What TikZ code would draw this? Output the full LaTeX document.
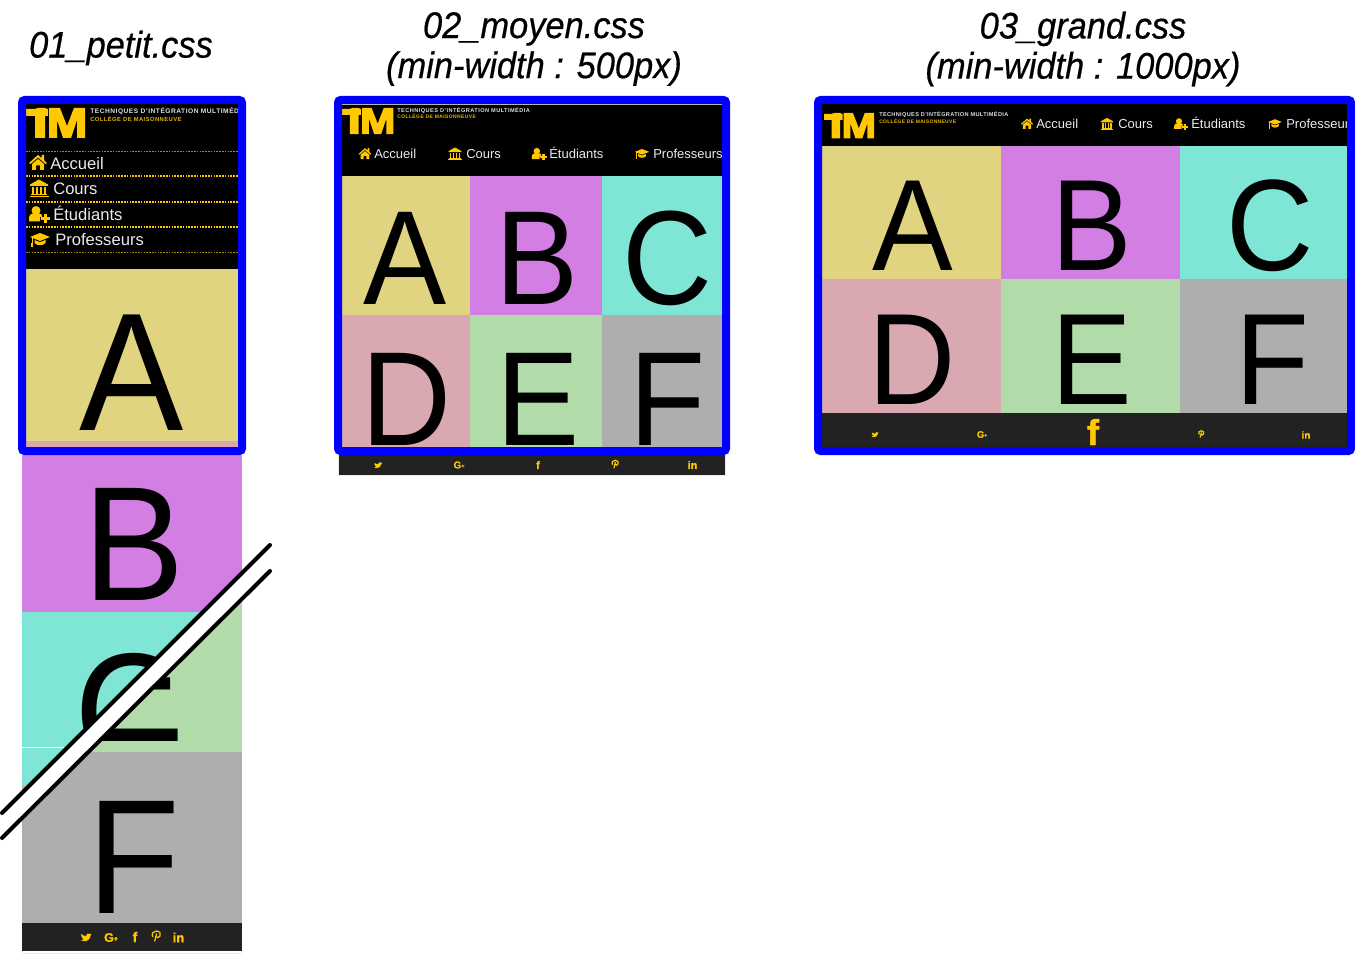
\documentclass[tikz,border=0pt]{standalone}
\usepackage{fontspec}
\setmainfont{Liberation Sans}
\newfontfamily\titlef[UprightFont=* Italic,FakeStretch=0.93,FakeBold=0.5]{Liberation Sans}
\newfontfamily\bigf[FakeStretch=0.93]{Liberation Sans}
\newfontfamily\socf[UprightFont=* Bold,FakeBold=1]{Liberation Sans}
\definecolor{blu}{HTML}{0000FF}
\definecolor{yel}{HTML}{FFC800}
\definecolor{ca}{HTML}{E0D480}
\definecolor{cb}{HTML}{D37EE3}
\definecolor{cc}{HTML}{7FE5D5}
\definecolor{cd}{HTML}{DAA8B0}
\definecolor{ce}{HTML}{B1DBA8}
\definecolor{cf}{HTML}{AEAEAE}
\definecolor{foot}{HTML}{222222}
\newcommand{\pxf}[1]{\fontsize{\fpeval{#1*0.75}}{\fpeval{#1*0.9}}\selectfont}
\tikzset{
  x=0.75pt,y=-0.75pt,
  frame/.style={draw=blu,line width=6pt,rounded corners=2pt},
  title/.style={inner sep=0,align=center,font=\titlef\pxf{37},text=black},
  big/.style={inner sep=0,anchor=base,text=black,font=\bigf\pxf{#1}},
  menu/.style={inner sep=0,anchor=base west,text=white!92!black,font=\pxf{#1}},
  lnone/.style={inner sep=0,anchor=base west,text=white!88!black,font=\bfseries\pxf{#1}},
  lntwo/.style={inner sep=0,anchor=base west,text=yel!90!black,font=\bfseries\pxf{#1}},
  soc/.style={inner sep=0,text=yel,font=\socf\pxf{#1}},
  dotline/.style={draw=yel,line width=.8pt,dash pattern=on 1.2pt off .9pt},
  dotthin/.style={draw=yel!70!black,line width=.5pt,dash pattern=on 1.2pt off .9pt},
  blackline/.style={draw=black,line width=3pt,line cap=round},
  logo/.pic={
    \fill[yel] (0,1)--(9,1)--(12,0)--(19,0)--(21,1)--(22,1)--(22,8)--(19,8)--(19,30)--(9,30)--(9,8)--(0,8)--cycle;
    \fill[yel] (23,0)--(34,0)--(41,18)--(48,0)--(59,0)--(59,30)--(51,30)--(51,12)--(45,30)--(37,30)--(31,12)--(31,30)--(23,30)--cycle;
  },
  home/.pic={
    \fill[yel] (-9,0)--(0,-8)--(3.5,-5)--(3.5,-8)--(6,-8)--(6,-2.8)--(9,0)--(7.5,1)--(0,-5.5)--(-7.5,1)--cycle;
    \fill[yel] (-6,1)--(0,-4)--(6,1)--(6,7)--(2,7)--(2,2.5)--(-2,2.5)--(-2,7)--(-6,7)--cycle;
  },
  bank/.pic={
    \fill[yel] (-9,-4)--(0,-9)--(9,-4)--(9,-2.5)--(-9,-2.5)--cycle;
    \foreach \q in {-7,-3,1,5}{\fill[yel] (\q,-1.5) rectangle ++(2,7);}
    \fill[yel] (-8,5.5) rectangle (8,7);
    \fill[yel] (-9.5,7.5) rectangle (9.5,9);
  },
  userp/.pic={
    \fill[yel] (-3,-4) circle (4.5);
    \fill[yel] (-10,7)--(-10,3) .. controls (-10,0) and (-8,-.5) .. (-6,-1) -- (0,-1) .. controls (2,-.5) and (3,0) .. (3,1)--(3,2.5)--(1,2.5)--(1,7)--cycle;
    \fill[yel] (2,2.5) rectangle (10.5,5.5);
    \fill[yel] (4.7,-.5) rectangle (7.8,8.5);
  },
  gcap/.pic={
    \fill[yel] (-10,-3)--(0,-7)--(10,-3)--(0,1)--cycle;
    \fill[yel] (-5.5,0)--(0,2.2)--(5.5,0)--(5.5,3)..controls (3,6) and (-3,6) ..(-5.5,3)--cycle;
    \fill[yel] (-8.5,-2.5) rectangle (-7.5,4);
    \fill[yel] (-9,3.5) rectangle (-7,7);
  },
  bird/.pic={
    \fill[yel] (-5,-3)..controls (-3,-1.5) and (-1.5,-1) .. (0,-1)
      ..controls (0,-3.5) and (3,-4.5) .. (4,-3) --(5.2,-3.4)--(4.6,-2.2)--(5.4,-2.4)--(4.5,-1.3)
      ..controls (4.5,2) and (1,4.5) .. (-2,4.2)
      ..controls (-3.5,4.2) and (-4.5,3.6) .. (-5.2,3.2)
      ..controls (-4,3.2) and (-3,2.9) .. (-2.2,2.3)
      ..controls (-3.5,2) and (-4,1.4) .. (-4.2,.8)
      --(-3.3,.8)..controls (-4.5,.3) and (-5,-.6) .. (-5,-1.2)
      --(-4,-1)..controls (-5.2,-1.8) and (-5.4,-2.6) .. (-5,-3)--cycle;
  },
  pint/.pic={
    \draw[yel,line width=.9pt] (-3.2,1) ..controls (-5.2,-2.8) and (-2,-5) .. (.3,-5) ..controls (4,-5) and (5,-2) .. (4,0) ..controls (3,2.2) and (.8,2) .. (0,.5);
    \draw[yel,line width=.9pt] (.6,-2.5)--(-1.4,5.5);
  },
}
\begin{document}
\begin{tikzpicture}
\useasboundingbox (0,0) rectangle (1355,955);
\fill[white] (0,0) rectangle (1355,955);

% ---------- titles
\node[title] (t1) at (121,48) {01\_petit.css};
\node[title] (t2) at (534,49) {02\_moyen.css\\[-3.2pt](min-width : 500px)};
\node[title] (t3) at (1083,49) {03\_grand.css\\[-3.2pt](min-width : 1000px)};

% ---------- column 1 : long page, above the cut
\fill[cb] (22,455) rectangle (242,612);
\fill[cc] (22,612) rectangle (242,786);
\fill[cd] (22,786) rectangle (242,800);
\node[big=163] (pb) at (134,600) {B};
\begin{scope}
\clip (22,612) rectangle (242,786);
\node[big=165] (pc) at (130,768) {C};
\end{scope}
\draw[white,line width=.6pt] (22,747) -- (70,747);
% below the cut
\begin{scope}
\clip (272,571) -- (-2,840) -- (0,955) -- (272,955) -- cycle;
\fill[ce] (22,590) rectangle (242,752);
\node[big=163] (pe) at (134,741) {E};
\fill[cf] (22,752) rectangle (242,923);
\node[big=163] (pf) at (134,913) {F};
\end{scope}
% the cut
\fill[white] (271,545) -- (1,813) -- (1,839) -- (271,571) -- cycle;
\draw[blackline] (270,545) -- (2,813);
\draw[blackline] (270,571) -- (2,838);
% footer column 1
\fill[foot] (22,923) rectangle (242,951);
\draw[gray!15,line width=.6pt] (22,953.5) -- (242,953.5);
\pic[scale=1] at (86,937) {bird};
\node[soc=12.5] (g1) at (111,937.5) {G\raisebox{.5pt}{\pxf{7}+}};
\node[soc=14] (f1) at (135,937) {f};
\pic[scale=1] at (156,936) {pint};
\node[soc=13] (l1) at (178.5,937.5) {in};

% ---------- column 1 : first screen
\fill[black] (26,104) rectangle (238,269);
\fill[ca] (26,269) rectangle (238,441);
\fill[cd] (26,441) rectangle (238,447);
\node[big=168] (pa) at (132,430) {A};
\pic[scale=1] at (26,108) {logo};
\begin{scope}
\clip (26,104) rectangle (238,147);
\node[lnone=6.6] (l1a) at (90,114) {\addfontfeature{LetterSpace=8}TECHNIQUES D'INTÉGRATION MULTIMÉDIA};
\node[lntwo=5.8] (l1b) at (90,121.5) {\addfontfeature{LetterSpace=8}COLLÈGE DE MAISONNEUVE};
\end{scope}
\draw[dotthin] (26,151) -- (238,151);
\draw[dotline] (26,176) -- (238,176);
\draw[dotline] (26,202) -- (238,202);
\draw[dotline] (26,227) -- (238,227);
\draw[dotthin] (26,252) -- (238,252);
\pic at (38,163) {home};
\pic at (39,188.5) {bank};
\pic at (39,214.5) {userp};
\pic at (40,240) {gcap};
\node[menu=16.6] (m1a) at (50,169.5) {Accueil};
\node[menu=16.6] (m1b) at (53,195) {Cours};
\node[menu=16.6] (m1c) at (53,220.5) {Étudiants};
\node[menu=16.6] (m1d) at (55,246) {Professeurs};
\draw[frame] (22,100) rectangle (242,451);

% ---------- column 2
\fill[gray!15] (338,450) rectangle (726,476);
\fill[foot] (339,450) rectangle (725,475);
\fill[black] (342,104) rectangle (722,176);
\draw[gray!60,line width=.6pt] (342,104.4) -- (722,104.4);
\fill[ca] (342,176) rectangle (470,315);
\fill[cb] (470,176) rectangle (602,315);
\fill[cc] (602,176) rectangle (722,315);
\fill[cd] (342,315) rectangle (470,447);
\fill[ce] (470,315) rectangle (602,447);
\fill[cf] (602,315) rectangle (722,447);
\node[big=134] (ma) at (405,305) {A};
\node[big=134] (mb) at (537,305) {B};
\node[big=134] (mc) at (667,305) {C};
\node[big=134] (md) at (406,445) {D};
\node[big=134] (me) at (538,445) {E};
\node[big=134] (mf) at (668,445) {F};
\pic[scale=.87] at (342,108) {logo};
\node[lnone=5.6] (l2a) at (397,113) {\addfontfeature{LetterSpace=8}TECHNIQUES D'INTÉGRATION MULTIMÉDIA};
\node[lntwo=5.0] (l2b) at (397,119) {\addfontfeature{LetterSpace=8}COLLÈGE DE MAISONNEUVE};
\pic[scale=.72] at (365,154) {home};
\pic[scale=.72] at (455,154) {bank};
\pic[scale=.72] at (539,154) {userp};
\pic[scale=.72] at (642,154) {gcap};
\node[menu=13] (m2a) at (374,158.5) {Accueil};
\node[menu=13] (m2b) at (466,158.5) {Cours};
\node[menu=13] (m2c) at (549,158.5) {Étudiants};
\node[menu=13] (m2d) at (653,158.5) {Professeurs};
\draw[frame] (338,100) rectangle (726,451);
\pic[scale=.75] at (378,465) {bird};
\node[soc=10] (g2) at (459,465) {G\raisebox{.5pt}{\pxf{5.5}+}};
\node[soc=11] (f2) at (538,465) {f};
\pic[scale=.75] at (615,464) {pint};
\node[soc=11] (l2) at (692.5,465) {in};

% ---------- column 3
\fill[black] (822,104) rectangle (1347,146);
\fill[ca] (822,146) rectangle (1001,279);
\fill[cb] (1001,146) rectangle (1180,279);
\fill[cc] (1180,146) rectangle (1347,279);
\fill[cd] (822,279) rectangle (1001,413);
\fill[ce] (1001,279) rectangle (1180,413);
\fill[cf] (1180,279) rectangle (1347,413);
\fill[foot] (822,413) rectangle (1347,447);
\node[big=130] (ga) at (913,271) {A};
\node[big=130] (gb) at (1092,271) {B};
\node[big=130] (gc) at (1270,271) {C};
\node[big=130] (gd) at (912,404) {D};
\node[big=130] (ge) at (1092,404) {E};
\node[big=130] (gf) at (1272,404) {F};
\pic[scale=.85] at (824,113) {logo};
\node[lnone=5.6] (l3a) at (879,117) {\addfontfeature{LetterSpace=6}TECHNIQUES D'INTÉGRATION MULTIMÉDIA};
\node[lntwo=5.0] (l3b) at (879,124) {\addfontfeature{LetterSpace=6}COLLÈGE DE MAISONNEUVE};
\pic[scale=.68] at (1027,124) {home};
\pic[scale=.68] at (1107,124) {bank};
\pic[scale=.68] at (1181,124) {userp};
\pic[scale=.68] at (1275,124) {gcap};
\node[menu=13] (m3a) at (1036,129) {Accueil};
\node[menu=13] (m3b) at (1118,129) {Cours};
\node[menu=13] (m3c) at (1191,129) {Étudiants};
\begin{scope}
\clip (1280,110) rectangle (1347,140);
\node[menu=13] (m3d) at (1286,129) {Professeurs};
\end{scope}
\pic[scale=.65] at (875,434.5) {bird};
\node[soc=9.5] (g3) at (982,434.5) {G\raisebox{.5pt}{\pxf{5}+}};
\node[soc=36] (f3) at (1093,432) {f};
\pic[scale=.65] at (1201,434) {pint};
\node[soc=10] (l3) at (1306,435) {in};
\draw[frame] (818,100) rectangle (1351,451);
\end{tikzpicture}
\end{document}
